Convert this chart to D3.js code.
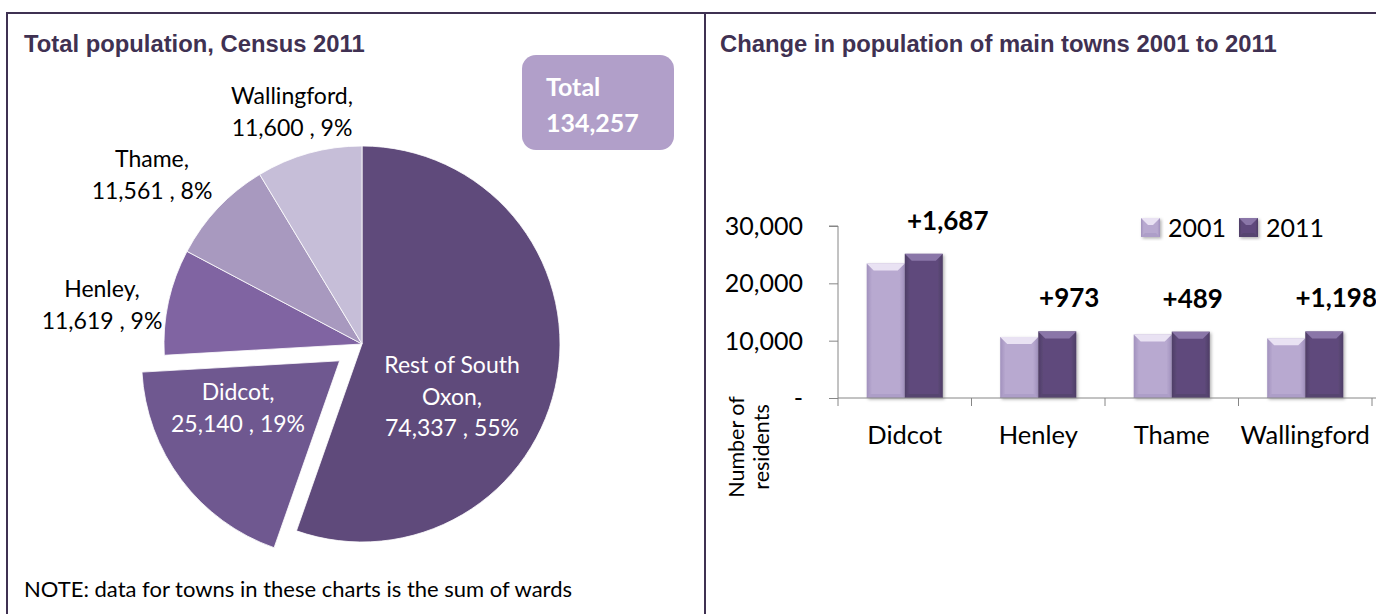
<!DOCTYPE html>
<html><head><meta charset="utf-8">
<script src="https://cdn.jsdelivr.net/npm/d3@7"></script>
<style>
html,body{margin:0;padding:0;background:#fff;overflow:hidden}
svg{display:block}
</style></head><body>
<svg id="c" width="1376" height="614"></svg>
<script>
// ---------- data ----------
const pieNames = ["Rest of South Oxon", "Didcot", "Henley", "Thame", "Wallingford"];
const pieValues = [74337, 25140, 11619, 11561, 11600];
const pieShares = [55, 19, 9, 8, 9];
const pieLabelLines = [["Rest of South", "Oxon,"], ["Didcot,"], ["Henley,"], ["Thame,"], ["Wallingford,"]];

const towns = ["Didcot", "Henley", "Thame", "Wallingford"];
const pop2001 = [23453, 10646, 11072, 10402];
const pop2011 = [25140, 11619, 11561, 11600];
const years = ["2001", "2011"];
const yTicks = [0, 10000, 20000, 30000];

// ---------- styles ----------
const frame = "#3f3152";
const pieColors = ["#5f4a7b", "#6f5890", "#8064a2", "#a899bf", "#c6bed8"];
const barBase = {"2001": "#b8a9d0", "2011": "#5f4a7b"};
const barEdge = {"2001": "#a191bd", "2011": "#4e3e66"};
const barTop = {"2001": "#e9e2f3", "2011": "#8a76a8"};
const barBot = {"2001": "#ad9ec8", "2011": "#56446f"};
const bodyFont = "Lato, 'Open Sans', sans-serif";
const titleFont = "'Liberation Sans', Arial, sans-serif";

const svg = d3.select("#c");
const defs = svg.append("defs");

// frame
svg.append("line").attr("x1", 7).attr("x2", 1376).attr("y1", 13).attr("y2", 13).attr("stroke", frame).attr("stroke-width", 2);
svg.append("line").attr("x1", 7).attr("x2", 7).attr("y1", 12).attr("y2", 614).attr("stroke", frame).attr("stroke-width", 2);
svg.append("line").attr("x1", 705).attr("x2", 705).attr("y1", 12).attr("y2", 614).attr("stroke", frame).attr("stroke-width", 2);

// titles
svg.append("text").attr("x", 24).attr("y", 52).text("Total population, Census 2011")
  .attr("font-family", titleFont).attr("font-weight", "bold").attr("font-size", 23.8).attr("fill", frame);
svg.append("text").attr("x", 720).attr("y", 52).text("Change in population of main towns 2001 to 2011")
  .attr("font-family", titleFont).attr("font-weight", "bold").attr("font-size", 23.8).attr("fill", frame);

// ---------- pie ----------
const cx = 362, cy = 344, R = 198, explode = 28;
const total = d3.sum(pieValues);
const pie = d3.pie().sort(null).value(d => d.v);
const arcs = pie(pieNames.map((n, i) => ({n, v: pieValues[i], i})));
const arc = d3.arc().innerRadius(0).outerRadius(R);
const gPie = svg.append("g").attr("transform", `translate(${cx},${cy})`);

function offsetOf(d) {
  if (d.data.n !== "Didcot") return [0, 0];
  const m = (d.startAngle + d.endAngle) / 2;
  return [Math.sin(m) * explode, -Math.cos(m) * explode];
}
gPie.selectAll("path").data(arcs).enter().append("path")
  .attr("d", arc)
  .attr("transform", d => `translate(${offsetOf(d)})`)
  .attr("fill", d => pieColors[d.data.i])
  .attr("stroke", "#ffffff").attr("stroke-width", 0.8);

// label anchors (relative to pie centre: centre x, first baseline, colour)
const labelAnchor = {
  "Rest of South Oxon": [90, 29, "#ffffff"],
  "Didcot": [-124, 56, "#ffffff"],
  "Henley": [-260, -47, "#000000"],
  "Thame": [-210, -177, "#000000"],
  "Wallingford": [-70, -240, "#000000"]
};
const fmt = d3.format(",");
arcs.forEach(d => {
  const [ax, ay, col] = labelAnchor[d.data.n];
  const lines = pieLabelLines[d.data.i].concat([`${fmt(d.data.v)} , ${pieShares[d.data.i]}%`]);
  const t = gPie.append("text").attr("text-anchor", "middle")
    .attr("font-family", bodyFont).attr("font-size", 23).attr("fill", col);
  lines.forEach((l, k) => t.append("tspan").attr("x", ax).attr("y", ay + k * 31.5).text(l));
});

// total box
svg.append("rect").attr("x", 522).attr("y", 55).attr("width", 152).attr("height", 95).attr("rx", 14)
  .attr("fill", "#b19fc9");
const tb = svg.append("text").attr("font-family", bodyFont).attr("font-weight", "bold").attr("font-size", 25).attr("fill", "#ffffff");
tb.append("tspan").attr("x", 546).attr("y", 96).text("Total");
tb.append("tspan").attr("x", 546).attr("y", 132).text(fmt(total));

// note
svg.append("text").attr("x", 24).attr("y", 597).text("NOTE: data for towns in these charts is the sum of wards")
  .attr("font-family", bodyFont).attr("font-size", 22).attr("fill", "#000");

// ---------- bar chart ----------
const x0 = d3.scaleBand().domain(towns).range([838, 1372]).padding(0);
const bw = x0.bandwidth();
const x1 = d3.scaleBand().domain(years).range([bw * 0.215, bw * 0.785]).padding(0);
const y = d3.scaleLinear().domain([0, 30000]).range([398, 226]);

// gradients
years.forEach(yr => {
  const g = defs.append("linearGradient").attr("id", "g" + yr).attr("x1", 0).attr("x2", 1).attr("y1", 0).attr("y2", 0);
  g.append("stop").attr("offset", 0).attr("stop-color", barEdge[yr]);
  g.append("stop").attr("offset", 0.14).attr("stop-color", barBase[yr]);
  g.append("stop").attr("offset", 0.86).attr("stop-color", barBase[yr]);
  g.append("stop").attr("offset", 1).attr("stop-color", barEdge[yr]);
});
const sh = defs.append("filter").attr("id", "sh").attr("x", -0.2).attr("y", -0.2).attr("width", 1.4).attr("height", 1.4);
sh.append("feDropShadow").attr("dx", 1.5).attr("dy", 1.5).attr("stdDeviation", 1.5).attr("flood-color", "#000").attr("flood-opacity", 0.3);

function bevelBar(sel, x, yTop, w, h, yr) {
  const g = sel.append("g").attr("filter", "url(#sh)");
  g.append("rect").attr("x", x).attr("y", yTop).attr("width", w).attr("height", h).attr("fill", `url(#g${yr})`);
  const b = Math.min(7, h / 2);
  g.append("polygon").attr("points", [[x, yTop], [x + w, yTop], [x + w - b, yTop + b], [x + b, yTop + b]].join(" "))
    .attr("fill", barTop[yr]);
  const bb = Math.min(4, h / 3);
  g.append("polygon").attr("points", [[x, yTop + h], [x + w, yTop + h], [x + w - bb, yTop + h - bb], [x + bb, yTop + h - bb]].join(" "))
    .attr("fill", barBot[yr]);
}

// axes
const axisCol = "#868686";
const gy = svg.append("g").attr("transform", "translate(838,0)")
  .call(d3.axisLeft(y).tickValues(yTicks).tickSize(9).tickPadding(26).tickFormat(v => v === 0 ? "-" : fmt(v)));
gy.select(".domain").attr("stroke", axisCol).attr("d", `M-9,${y(30000)}H0V${y(0)}`);
gy.selectAll(".tick line").attr("stroke", axisCol);
gy.selectAll(".tick text").attr("font-family", bodyFont).attr("font-size", 25).attr("fill", "#000").attr("dy", "0.34em");

const gBars = svg.append("g");
towns.forEach((t, i) => {
  const vals = {"2001": pop2001[i], "2011": pop2011[i]};
  years.forEach(yr => {
    const bx = x0(t) + x1(yr);
    bevelBar(gBars, bx, y(vals[yr]), x1.bandwidth(), y(0) - y(vals[yr]), yr);
  });
});

// x axis
svg.append("line").attr("x1", 838).attr("x2", 1376).attr("y1", 398).attr("y2", 398).attr("stroke", axisCol);
const bounds = towns.map(t => x0(t)).concat([x0.range()[1]]);
svg.selectAll(".xt").data(bounds).enter().append("line")
  .attr("x1", d => d).attr("x2", d => d).attr("y1", 398).attr("y2", 406).attr("stroke", axisCol);
svg.selectAll(".xl").data(towns).enter().append("text")
  .attr("x", d => x0(d) + bw / 2).attr("y", 444).attr("text-anchor", "middle")
  .attr("font-family", bodyFont).attr("font-size", 25.5).text(d => d);

// change labels
const labelDx = [24, 12, 2, 12];
towns.forEach((t, i) => {
  const cxBar = x0(t) + x1("2011") + x1.bandwidth() / 2;
  svg.append("text").attr("x", cxBar + labelDx[i]).attr("y", y(pop2011[i]) - 24)
    .attr("text-anchor", "middle").attr("font-family", bodyFont).attr("font-weight", "bold").attr("font-size", 26)
    .text("+" + fmt(pop2011[i] - pop2001[i]));
});

// y title
const yt = svg.append("text").attr("transform", "translate(0,447) rotate(-90)").attr("text-anchor", "middle")
  .attr("font-family", bodyFont).attr("font-size", 21.5);
yt.append("tspan").attr("x", 0).attr("y", 744).text("Number of");
yt.append("tspan").attr("x", 0).attr("y", 769).text("residents");

// legend
const lg = svg.append("g");
years.forEach((yr, k) => {
  const lx = 1141 + k * 98;
  bevelBar(lg, lx, 218, 19, 19, yr);
  lg.append("text").attr("x", lx + 27).attr("y", 237).attr("font-family", bodyFont).attr("font-size", 25).text(yr);
});
</script>
</body></html>
